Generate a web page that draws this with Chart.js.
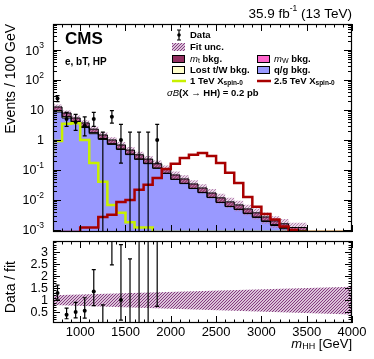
<!DOCTYPE html>
<html>
<head>
<meta charset="utf-8">
<script src="https://cdn.jsdelivr.net/npm/chart.js@4"></script>
<style>
  body { margin: 0; background: #fff; }
  #wrap { position: relative; width: 374px; height: 359px; }
  #top { position: absolute; left: 0; top: 0; }
  #bot { position: absolute; left: 0; top: 236px; }
</style>
</head>
<body>
<div id="wrap">
  <canvas id="top" width="374" height="240"></canvas>
  <canvas id="bot" width="374" height="123"></canvas>
</div>
<script>
// background bins (low edges, 100 GeV wide)
const bkgLow = [700, 800, 900, 1000, 1100, 1200, 1300, 1400, 1500, 1600, 1700, 1800, 1900, 2000,
  2100, 2200, 2300, 2400, 2500, 2600, 2700, 2800, 2900, 3000, 3100, 3200, 3300, 3400];
const qgBkg = [12.5, 8.6, 5.4, 3.75, 2.6, 1.62, 1.04, 0.71, 0.48, 0.325, 0.225, 0.162, 0.113, 0.076,
  0.048, 0.035, 0.024, 0.0175, 0.012, 0.0082, 0.006, 0.0048, 0.0035, 0.0026, 0.0019, 0.0014, 0.0011, 0.00085];
const lostBkg = [1.6, 1.0, 0.6, 0.38, 0.24, 0.14, 0.08, 0.045, 0.025, 0.014, 0.008, 0.005, 0.003, 0.002,
  0.001, 0.0007, 0.0004, 0.0003, 0.0002, 0.0001, 0.0001, 0.0001, 0.0001, 0.0001, 0.0001, 0.0001, 0.0001, 0.0001];
const mtBkg = [4.4, 3.0, 1.9, 1.27, 0.86, 0.54, 0.35, 0.245, 0.175, 0.121, 0.087, 0.063, 0.044, 0.030,
  0.019, 0.0143, 0.0096, 0.0072, 0.0048, 0.0034, 0.0025, 0.0019, 0.0014, 0.001, 0.0007, 0.0005, 0.0004, 0.00025];
const relUnc = [0.2, 0.2, 0.21, 0.21, 0.22, 0.23, 0.23, 0.24, 0.25, 0.26, 0.27, 0.28, 0.29, 0.3,
  0.31, 0.32, 0.33, 0.34, 0.35, 0.36, 0.37, 0.38, 0.39, 0.4, 0.41, 0.42, 0.43, 0.44];

// signals
const sigLow = [700, 800, 900, 1000, 1100, 1200, 1300, 1400, 1500, 1600, 1700, 1800, 1900, 2000,
  2100, 2200, 2300, 2400, 2500, 2600, 2700, 2800, 2900, 3000, 3100, 3200, 3300, 3400,
  3500, 3600, 3700, 3800, 3900];
const sig1TeV = [0.27, 0.93, 3.5, 3.6, 1.0, 0.17, 0.04, 0.0068, 0.0037, 0.0018, 0.0012, 0.0012,
  0, 0, 0, 0, 0, 0, 0, 0, 0, 0, 0, 0, 0, 0, 0, 0, 0, 0, 0, 0, 0];
const sig2p5TeV = [0, 0, 0, 0, 0.0012, 0.0012, 0.0027, 0.0032, 0.0086, 0.01, 0.022, 0.032, 0.054, 0.108,
  0.16, 0.25, 0.32, 0.37, 0.29, 0.17, 0.08, 0.037, 0.0126, 0.0059, 0.0034, 0.0022, 0.0013, 0.001,
  0, 0, 0, 0, 0];

// data
const dataCenter = [750, 850, 950, 1050, 1150, 1250, 1350, 1450, 1550, 1650, 1750, 1850];
const dataN = [24, 5, 4, 3, 5, 0, 6, 1, 0, 0, 0, 1];
const dataLo = [19.14, 2.84, 2.09, 1.37, 2.84, 0, 3.62, 0.17, 0, 0, 0, 0.17];
const dataHi = [29.96, 8.38, 7.16, 5.92, 8.38, 1.84, 9.58, 3.30, 1.84, 1.84, 1.84, 3.30];

// ratio panel uncertainty band
const ratioBandX = [700, 4000];
const ratioBandHi = [1.2, 1.55];
const ratioBandLo = [0.8, 0.4];

const xTickVals = [1000, 1500, 2000, 2500, 3000, 3500, 4000];
const ratioTickVals = [0.5, 1, 1.5, 2, 2.5, 3];
const logTickExp = [-3, -2, -1, 0, 1, 2, 3];

const Y_MIN = 8.5e-4, Y_MAX = 7400;
const FONT = '"Liberation Sans", Arial, Helvetica, sans-serif';
const C_QG = '#9999ff', C_LOST = '#ffffcc', C_MT = '#922f60', C_MW = '#ff66cc';
const C_S1 = '#c8f000', C_S2 = '#a80000', C_UNC = '#80307a';

function fnt(size, style) { return (style ? style + ' ' : '') + size + 'px ' + FONT; }

function makeHatch(color, s) {
  const c = document.createElement('canvas');
  c.width = s; c.height = s;
  const g = c.getContext('2d');
  g.strokeStyle = color; g.lineWidth = 1.1;
  g.beginPath();
  g.moveTo(0, s); g.lineTo(s, 0);
  g.moveTo(-s / 2, s / 2); g.lineTo(s / 2, -s / 2);
  g.moveTo(s / 2, s * 1.5); g.lineTo(s * 1.5, s / 2);
  g.stroke();
  return g.createPattern(c, 'repeat');
}
const hatch = makeHatch(C_UNC, 3);
const hatchTop = makeHatch('#b47cae', 3);

function steps(lows, vals) {
  const pts = lows.map((x, i) => ({ x: x, y: Math.max(vals[i], Y_MIN) }));
  const end = lows[lows.length - 1] + 100;
  pts.push({ x: end, y: pts[pts.length - 1].y }, { x: end, y: Y_MIN });
  return pts;
}

const lostCum = qgBkg.map((v, i) => v + lostBkg[i]);
const totBkg = lostCum.map((v, i) => v + mtBkg[i]);
const uncHi = totBkg.map((v, i) => v * (1 + relUnc[i]));
const uncLo = totBkg.map((v, i) => v * (1 - relUnc[i]));

function rich(ctx, x, y, parts, align) {
  let w = 0;
  for (const p of parts) { ctx.font = p[1]; w += ctx.measureText(p[0]).width; }
  let cx = align === 'right' ? x - w : (align === 'center' ? x - w / 2 : x);
  ctx.textAlign = 'left'; ctx.textBaseline = 'middle'; ctx.fillStyle = '#000';
  for (const p of parts) {
    ctx.font = p[1];
    ctx.fillText(p[0], cx, y + (p[2] || 0));
    cx += ctx.measureText(p[0]).width;
  }
  return w;
}

function errBars(ch, lo, hi) {
  const { ctx, chartArea: a, scales: { x, y } } = ch;
  ctx.save();
  ctx.beginPath(); ctx.rect(a.left, a.top, a.width, a.height); ctx.clip();
  ctx.strokeStyle = '#000'; ctx.lineWidth = 1.2;
  dataCenter.forEach((c, i) => {
    const px = x.getPixelForValue(c);
    const pl = y.getPixelForValue(Math.max(lo[i], y.min));
    const ph = y.getPixelForValue(Math.min(hi[i], y.max));
    ctx.beginPath();
    ctx.moveTo(px, pl); ctx.lineTo(px, ph);
    if (lo[i] > y.min) { ctx.moveTo(px - 2, pl); ctx.lineTo(px + 2, pl); }
    if (hi[i] < y.max) { ctx.moveTo(px - 2, ph); ctx.lineTo(px + 2, ph); }
    ctx.stroke();
  });
  ctx.restore();
}

function frameTicks(ch, yTicks) {
  const { ctx, chartArea: a, scales: { x, y } } = ch;
  ctx.save();
  ctx.strokeStyle = '#000'; ctx.lineWidth = 1;
  ctx.beginPath();
  for (let v = 700; v <= 4000; v += 100) {
    const px = Math.round(x.getPixelForValue(v)) + 0.5;
    const L = v % 500 === 0 ? 7 : 3.5;
    ctx.moveTo(px, a.bottom); ctx.lineTo(px, a.bottom - L);
    ctx.moveTo(px, a.top); ctx.lineTo(px, a.top + L);
  }
  for (const [v, L] of yTicks) {
    const py = Math.round(y.getPixelForValue(v)) + 0.5;
    ctx.moveTo(a.left, py); ctx.lineTo(a.left + L, py);
    ctx.moveTo(a.right, py); ctx.lineTo(a.right - L, py);
  }
  ctx.stroke();
  ctx.lineWidth = 1.2;
  ctx.strokeRect(a.left + 0.5, a.top + 0.5, a.width - 1, a.height - 1);
  ctx.restore();
}

function swatch(ctx, x, y, fill) {
  ctx.fillStyle = fill; ctx.fillRect(x, y - 4, 13, 8);
  ctx.strokeStyle = '#000'; ctx.lineWidth = 1; ctx.strokeRect(x + 0.5, y - 3.5, 12, 7);
}

const topDeco = {
  id: 'topDeco',
  afterDatasetsDraw(ch) { errBars(ch, dataLo, dataHi); },
  afterDraw(ch) {
    const { ctx, scales: { y } } = ch;
    const yt = [];
    for (let e = -4; e <= 3; e++) for (let m = 1; m <= 9; m++) {
      const v = m * Math.pow(10, e);
      if (v >= Y_MIN && v <= Y_MAX) yt.push([v, m === 1 ? 8 : 4]);
    }
    frameTicks(ch, yt);
    // y tick labels
    logTickExp.forEach(e => {
      const py = y.getPixelForValue(Math.pow(10, e)) + 1;
      if (e === 0) rich(ctx, 44, py, [['1', fnt(12.5)]], 'right');
      else if (e === 1) rich(ctx, 44, py, [['10', fnt(12.5)]], 'right');
      else rich(ctx, 44, py, [['10', fnt(12.5)], [String(e), fnt(8.5), -5]], 'right');
    });
    // axis title
    ctx.save(); ctx.translate(11, 24); ctx.rotate(-Math.PI / 2);
    rich(ctx, 0, 0, [['Events / 100 GeV', fnt(14)]], 'right');
    ctx.restore();
    // header texts
    rich(ctx, 352, 14, [['35.9 fb', fnt(13.5)], ['-1', fnt(8.5), -5], [' (13 TeV)', fnt(13.5)]], 'right');
    rich(ctx, 65, 39, [['CMS', fnt(17, 'bold')]]);
    rich(ctx, 65, 62, [['e, bT, HP', fnt(10, 'bold')]]);
    // legend
    const L = 172, L2 = 257, T1 = 190, T2 = 274;
    const rows = [35, 47, 59, 70, 81, 93];
    const b = fnt(9.5, 'bold');
    ctx.strokeStyle = '#000'; ctx.lineWidth = 1.2;
    ctx.beginPath();
    ctx.moveTo(179, rows[0] - 5); ctx.lineTo(179, rows[0] + 5);
    ctx.moveTo(177, rows[0] - 5); ctx.lineTo(181, rows[0] - 5);
    ctx.moveTo(177, rows[0] + 5); ctx.lineTo(181, rows[0] + 5);
    ctx.stroke();
    ctx.fillStyle = '#000'; ctx.beginPath(); ctx.arc(179, rows[0], 1.8, 0, Math.PI * 2); ctx.fill();
    rich(ctx, T1, rows[0], [['Data', b]]);
    ctx.fillStyle = hatch; ctx.fillRect(L, rows[1] - 4, 13, 8);
    rich(ctx, T1, rows[1], [['Fit unc.', b]]);
    swatch(ctx, L, rows[2], C_MT);
    rich(ctx, T1, rows[2], [['m', fnt(9.5, 'italic')], ['t', fnt(7), 2.5], [' bkg.', b]]);
    swatch(ctx, L2, rows[2], C_MW);
    rich(ctx, T2, rows[2], [['m', fnt(9.5, 'italic')], ['W', fnt(7), 2.5], [' bkg.', b]]);
    swatch(ctx, L, rows[3], C_LOST);
    rich(ctx, T1, rows[3], [['Lost t/W bkg.', b]]);
    swatch(ctx, L2, rows[3], C_QG);
    rich(ctx, T2, rows[3], [['q/g bkg.', b]]);
    ctx.lineWidth = 2.5;
    ctx.strokeStyle = C_S1; ctx.beginPath(); ctx.moveTo(L, rows[4]); ctx.lineTo(L + 14, rows[4]); ctx.stroke();
    ctx.strokeStyle = C_S2; ctx.beginPath(); ctx.moveTo(L2, rows[4]); ctx.lineTo(L2 + 14, rows[4]); ctx.stroke();
    rich(ctx, T1, rows[4], [['1 TeV X', b], ['spin-0', fnt(6.5, 'bold'), 2.5]]);
    rich(ctx, T2, rows[4], [['2.5 TeV X', b], ['spin-0', fnt(6.5, 'bold'), 2.5]]);
    rich(ctx, 167, rows[5], [['\u03c3B', fnt(9.5, 'italic')], ['(X \u2192 HH) = 0.2 pb', b]]);
  }
};

const botDeco = {
  id: 'botDeco',
  afterDatasetsDraw(ch) {
    errBars(ch, dataLo.map((v, i) => v / totBkg[i]), dataHi.map((v, i) => v / totBkg[i]));
  },
  afterDraw(ch) {
    const { ctx, chartArea: a, scales: { x, y } } = ch;
    const yt = [];
    for (let k = 1; k <= 34; k++) yt.push([k / 10, k % 5 === 0 ? 7 : 3.5]);
    frameTicks(ch, yt);
    ratioTickVals.forEach(v => rich(ctx, 48, y.getPixelForValue(v) + 0.5, [[String(v), fnt(12.5)]], 'right'));
    xTickVals.forEach(v => rich(ctx, x.getPixelForValue(v), a.bottom + 9, [[String(v), fnt(13)]], 'center'));
    ctx.save(); ctx.translate(11, 25); ctx.rotate(-Math.PI / 2);
    rich(ctx, 0, 0, [['Data / fit', fnt(14)]], 'right');
    ctx.restore();
    rich(ctx, 352, 108, [['m', fnt(13, 'italic')], ['HH', fnt(9), 3], [' [GeV]', fnt(13)]], 'right');
  }
};

const hiddenAxis = (w) => ({
  ticks: { display: false }, grid: { display: false, drawTicks: false }, border: { display: false },
  afterFit: s => { s.width = w; }
});

new Chart(document.getElementById('top'), {
  type: 'line',
  data: {
    datasets: [
      { data: dataCenter.map((c, i) => ({ x: c, y: dataN[i] > 0 ? dataN[i] : null })), showLine: false,
        pointRadius: 2, pointBackgroundColor: '#000', pointBorderWidth: 0, order: 0 },
      { data: steps(sigLow, sig2p5TeV), stepped: 'after', borderColor: C_S2, borderWidth: 2.5,
        pointRadius: 0, fill: false, order: 1 },
      { data: steps(sigLow, sig1TeV), stepped: 'after', borderColor: C_S1, borderWidth: 2.5,
        pointRadius: 0, fill: false, order: 2 },
      { data: steps(bkgLow, uncHi), stepped: 'after', borderWidth: 0, pointRadius: 0,
        fill: '+1', backgroundColor: hatchTop, order: 3 },
      { data: steps(bkgLow, uncLo), stepped: 'after', borderWidth: 0, pointRadius: 0, fill: false, order: 4 },
      { data: steps(bkgLow, totBkg), stepped: 'after', borderColor: '#000', borderWidth: 1, pointRadius: 0,
        fill: '+1', backgroundColor: C_MT, order: 5 },
      { data: steps(bkgLow, lostCum), stepped: 'after', borderColor: '#000', borderWidth: 1, pointRadius: 0,
        fill: '+1', backgroundColor: C_LOST, order: 6 },
      { data: steps(bkgLow, qgBkg), stepped: 'after', borderColor: '#000', borderWidth: 1, pointRadius: 0,
        fill: 'start', backgroundColor: C_QG, order: 7 }
    ]
  },
  options: {
    responsive: false, animation: false, events: [],
    layout: { padding: { top: 24, right: 22, bottom: 8, left: 0 } },
    plugins: { legend: { display: false }, tooltip: { enabled: false }, filler: { drawTime: 'beforeDatasetsDraw' } },
    scales: {
      x: { type: 'linear', min: 700, max: 4000, display: false },
      y: Object.assign({ type: 'logarithmic', min: Y_MIN, max: Y_MAX }, hiddenAxis(53))
    }
  },
  plugins: [topDeco]
});

new Chart(document.getElementById('bot'), {
  type: 'line',
  data: {
    datasets: [
      { data: dataCenter.map((c, i) => ({ x: c, y: dataN[i] > 0 ? dataN[i] / totBkg[i] : null })), showLine: false,
        pointRadius: 2, pointBackgroundColor: '#000', pointBorderWidth: 0, order: 0 },
      { data: ratioBandX.map((x, i) => ({ x: x, y: ratioBandHi[i] })), borderWidth: 0, pointRadius: 0,
        fill: '+1', backgroundColor: hatch, order: 1 },
      { data: ratioBandX.map((x, i) => ({ x: x, y: ratioBandLo[i] })), borderWidth: 0, pointRadius: 0,
        fill: false, order: 2 }
    ]
  },
  options: {
    responsive: false, animation: false, events: [],
    layout: { padding: { top: 5, right: 22, bottom: 0, left: 0 } },
    plugins: { legend: { display: false }, tooltip: { enabled: false } },
    scales: {
      x: { type: 'linear', min: 700, max: 4000, ticks: { display: false }, grid: { display: false, drawTicks: false },
        border: { display: false }, afterFit: s => { s.height = 36; } },
      y: Object.assign({ type: 'linear', min: 0.05, max: 3.45 }, hiddenAxis(53))
    }
  },
  plugins: [botDeco]
});
</script>
</body>
</html>
